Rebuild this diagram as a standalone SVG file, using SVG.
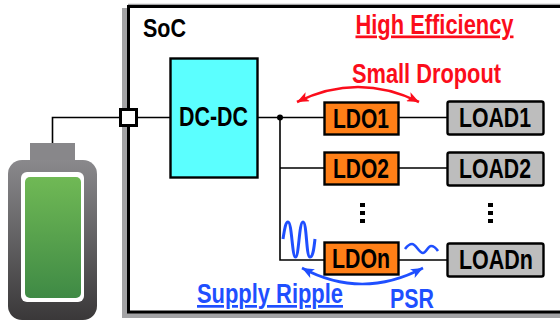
<svg xmlns="http://www.w3.org/2000/svg" width="560" height="322" viewBox="0 0 560 322">
<style>
text{font-family:"Liberation Sans",Arial,sans-serif;font-weight:700}
.w{fill:none;stroke:#000;stroke-width:1.6}
.ldo{fill:#ff7f17;stroke:#000;stroke-width:2.4}
.load{fill:#bdbdbd;stroke:#000;stroke-width:2.4}
.bt{font-size:27.500px;fill:#000}
.red{fill:#fb0d1b}
.blue{fill:#1f4fff}
.cr{fill:none;stroke:#fb0d1b;stroke-width:2.6}
.cb{fill:none;stroke:#1f4fff;stroke-width:2.6}
.wv{stroke-width:3}
</style>
<defs>
<linearGradient id="g1" x1="0" y1="0" x2="0" y2="1"><stop offset="0" stop-color="#8a898c"/><stop offset="1" stop-color="#3a3839"/></linearGradient>
<linearGradient id="g2" x1="0" y1="0" x2="0" y2="1"><stop offset="0" stop-color="#70b955"/><stop offset="1" stop-color="#3f8a45"/></linearGradient>
<marker id="ar" markerWidth="14" markerHeight="10" refX="12" refY="5" orient="auto-start-reverse" markerUnits="userSpaceOnUse"><path d="M0 0L12 5L0 10L3 5Z" fill="#fb0d1b"/></marker>
<marker id="ab" markerWidth="14" markerHeight="10" refX="12" refY="5" orient="auto-start-reverse" markerUnits="userSpaceOnUse"><path d="M0 0L12 5L0 10L3 5Z" fill="#1f4fff"/></marker>
</defs>
<rect width="560" height="322" fill="#fff"/>
<g id="soc">
<path d="M125 8V315H560" fill="none" stroke="#a3a3a5" stroke-width="6"/>
<path d="M560 4.500H128" fill="none" stroke="#a3a3a5" stroke-width="1.500"/>
<path d="M560 6.500H128.500V312H560" fill="none" stroke="#000" stroke-width="3"/>
<text x="143" y="36.500" font-size="26" fill="#000" textLength="43" lengthAdjust="spacingAndGlyphs">SoC</text>
</g>
<g id="battery">
<rect x="30" y="143" width="45" height="20" fill="#88878a"/>
<rect x="8" y="160" width="89" height="160" rx="14" fill="url(#g1)"/>
<rect x="21" y="172" width="63" height="130" rx="6" fill="#fff"/>
<rect x="25" y="177" width="56" height="121" rx="5" fill="url(#g2)"/>
</g>
<g id="connectors">
<path class="w" d="M52.500 143V117.500H170"/>
<path class="w" d="M257 117.500H324M398 117.500H447M280 117.500V260H324M280 168H324M398 168H447M398 260H447"/>
<circle cx="280" cy="117.500" r="3" fill="#000"/>
<path class="cr" d="M297 102Q358 72 419 102" marker-start="url(#ar)" marker-end="url(#ar)"/>
<path class="cb" d="M302 268Q362 300 423 268" marker-start="url(#ab)" marker-end="url(#ab)"/>
<path class="cb wv" d="M283 239C285 226 286 222 288 222C292 222 292 257 295.500 257C299 257 299 222 303 222C307 222 306 257 310 257C313 257 314 248 315 239"/>
<path class="cb" d="M405 249C408 245 410 244 412 244C416 244 419 253 423 253C426 253 428 246 431 246C434 246 436 248 438 251"/>
</g>
<g id="port"><rect x="120.500" y="109.500" width="16" height="16" fill="#fff" stroke="#000" stroke-width="3"/></g>
<g id="dcdc"><rect x="170.500" y="58.500" width="87" height="119" fill="#5bffff" stroke="#000" stroke-width="2.400"/><text class="bt" x="179" y="125.500" textLength="69" lengthAdjust="spacingAndGlyphs">DC-DC</text></g>
<g id="ldo1"><rect class="ldo" x="324.500" y="102.500" width="74" height="32"/><text class="bt" x="333" y="127.500" textLength="56" lengthAdjust="spacingAndGlyphs">LDO1</text></g>
<g id="ldo2"><rect class="ldo" x="324.500" y="152.500" width="74" height="32"/><text class="bt" x="333" y="177.500" textLength="56" lengthAdjust="spacingAndGlyphs">LDO2</text></g>
<g id="ldon"><rect class="ldo" x="324.500" y="242.500" width="74" height="32"/><text class="bt" x="332" y="267.500" textLength="58" lengthAdjust="spacingAndGlyphs">LDOn</text></g>
<g id="load1"><rect class="load" x="447.500" y="101.500" width="96" height="33" rx="2"/><text class="bt" x="459" y="126.500" textLength="72" lengthAdjust="spacingAndGlyphs">LOAD1</text></g>
<g id="load2"><rect class="load" x="447.500" y="152.500" width="96" height="33" rx="2"/><text class="bt" x="459" y="177.500" textLength="72" lengthAdjust="spacingAndGlyphs">LOAD2</text></g>
<g id="loadn"><rect class="load" x="447.500" y="243.500" width="96" height="33" rx="2"/><text class="bt" x="459" y="268.500" textLength="74" lengthAdjust="spacingAndGlyphs">LOADn</text></g>
<g id="dots" fill="#000">
<rect x="360" y="203" width="5" height="4"/><rect x="360" y="211" width="5" height="4"/><rect x="360" y="219" width="5" height="4"/>
<rect x="488" y="203" width="5" height="4"/><rect x="488" y="211" width="5" height="4"/><rect x="488" y="219" width="5" height="4"/>
</g>
<g id="labels">
<text class="red" x="355.500" y="33.500" font-size="27" text-decoration="underline" textLength="158" lengthAdjust="spacingAndGlyphs">High Efficiency</text>
<text class="red" x="352" y="82.500" font-size="27" textLength="149" lengthAdjust="spacingAndGlyphs">Small Dropout</text>
<text class="blue" x="197" y="303" font-size="27" text-decoration="underline" textLength="146" lengthAdjust="spacingAndGlyphs">Supply Ripple</text>
<text class="blue" x="390" y="308" font-size="27" textLength="44" lengthAdjust="spacingAndGlyphs">PSR</text>
</g>
</svg>
